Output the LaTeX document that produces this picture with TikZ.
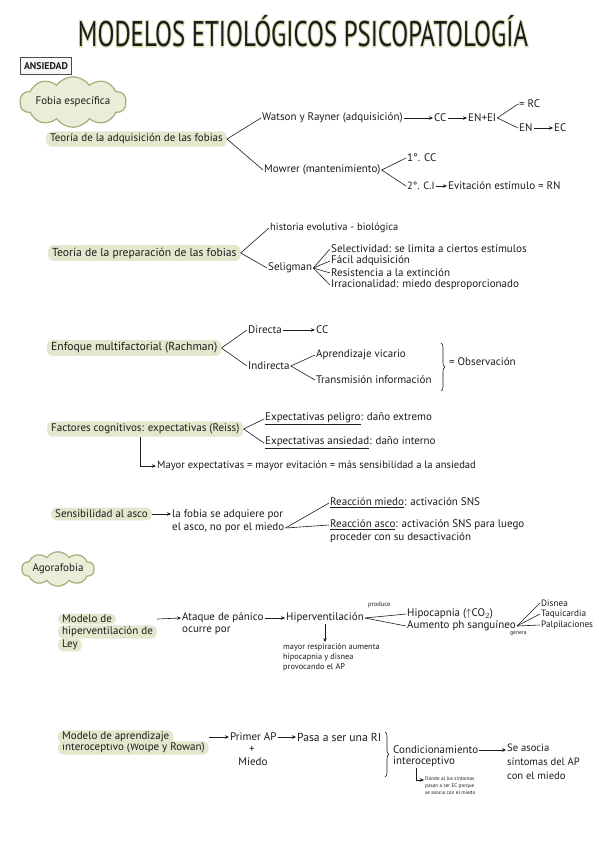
\documentclass[tikz,border=0pt]{standalone}
\usepackage{fontspec}
\setmainfont{PT Sans}
\newfontfamily\glowfont[FakeBold=7]{PT Sans}
\usetikzlibrary{shapes.symbols,arrows.meta,decorations.pathreplacing,calc}
\definecolor{ink}{RGB}{28,28,28}
\definecolor{hlfill}{RGB}{226,231,205}
\definecolor{cloudfill}{RGB}{232,238,216}
\definecolor{cloudline}{RGB}{160,176,120}
\definecolor{glow}{RGB}{218,228,184}
\begin{document}
\begin{tikzpicture}[x=1pt,y=-1pt,
  txt/.style={font=\fontsize{11}{13}\selectfont, text=ink, inner sep=1pt, anchor=west},
  big/.style={txt},
  sm/.style={txt, font=\fontsize{8.3}{10}\selectfont, align=left},
  tinytxt/.style={txt, font=\fontsize{5.2}{6.8}\selectfont, align=left},
  hl/.style={txt, fill=hlfill, rounded corners=5pt, inner xsep=4pt, inner ysep=2.5pt},
  ln/.style={draw=ink, line width=0.6pt},
  arr/.style={ln, -{Stealth[length=4pt,width=3.5pt]}},
  bracestyle/.style={ln, decorate, decoration={brace, amplitude=4pt}},
  cloudbox/.style={cloud, cloud puffs=10, cloud puff arc=110, aspect=3, draw=cloudline, fill=cloudfill, line width=1.2pt, inner sep=0pt, text=ink, font=\fontsize{11}{13}\selectfont},
  titlestyle/.style={inner sep=0pt, font=\fontsize{36}{36}\selectfont}
]
\useasboundingbox[fill=white] (0,0) rectangle (599,848);

% ---------- title ----------
\node[titlestyle, text=glow] (titleglow) at (303,31) {\resizebox{450pt}{31pt}{\glowfont MODELOS ETIOLÓGICOS PSICOPATOLOGÍA}};
\node[titlestyle, text=ink] (title) at (303,31) {\resizebox{450pt}{31pt}{MODELOS ETIOLÓGICOS PSICOPATOLOGÍA}};

\node[draw=gray!60!black, fill=gray!6, line width=0.8pt, minimum width=51pt, minimum height=17pt, inner sep=1pt, text=ink] (ans) at (46,66) {\resizebox{44pt}{7pt}{\bfseries ANSIEDAD}};

% ---------- Fobia especifica ----------
\node[cloudbox, minimum width=88pt, minimum height=30pt] (fobia) at (73,102) {Fobia específica};

\node[hl] (tadq) at (46,139) {Teoría de la adquisición de las fobias};
\node[txt] (watson) at (261,118) {Watson y Rayner (adquisición)};
\node[txt] (cc1) at (433,118) {CC};
\node[txt] (enei) at (467,118) {EN+EI};
\node[txt] (rc) at (518,104) {= RC};
\node[txt] (en) at (518,128) {EN};
\node[txt] (ec) at (553,128) {EC};
\node[txt] (mowrer) at (263,170) {Mowrer (mantenimiento)};
\node[txt] (cc2) at (406,158) {1°. CC};
\node[txt, font=\fontsize{10.5}{13}\selectfont] (ci) at (406,186) {2°. C.I};
\node[txt] (evit) at (447,186) {Evitación estímulo = RN};

\draw[ln] (tadq.east) -- (watson.west);
\draw[ln] (tadq.east) -- (mowrer.west);
\draw[arr] (watson.east) -- (cc1.west);
\draw[arr] (cc1.east) -- (enei.west);
\draw[ln] (enei.east) -- (rc.west);
\draw[ln] (enei.east) -- (en.west);
\draw[arr] (en.east) -- (ec.west);
\draw[ln] (mowrer.east) -- (cc2.west);
\draw[ln] (mowrer.east) -- (ci.west);
\draw[arr] (ci.east) -- (evit.west);

% ---------- Preparacion ----------
\node[hl, font=\fontsize{11.6}{13}\selectfont] (tprep) at (48,253) {Teoría de la preparación de las fobias};
\node[txt, font=\fontsize{10.5}{13}\selectfont] (hist) at (269,228) {historia evolutiva - biológica};
\node[txt] (selig) at (267,268) {Seligman};
\node[txt] (s1) at (330,249) {Selectividad: se limita a ciertos estímulos};
\node[txt] (s2) at (330,261) {Fácil adquisición};
\node[txt] (s3) at (330,273) {Resistencia a la extinción};
\node[txt] (s4) at (330,285) {Irracionalidad: miedo desproporcionado};
\draw[ln] (tprep.east) -- (hist.west);
\draw[ln] (tprep.east) -- (selig.west);
\foreach \s in {s1,s2,s3,s4} \draw[ln] (selig.east) -- (\s.west);

% ---------- Rachman ----------
\node[hl, font=\fontsize{11.6}{13}\selectfont] (rach) at (47,348) {Enfoque multifactorial (Rachman)};
\node[txt] (dir) at (247,330) {Directa};
\node[txt] (cc3) at (315,330) {CC};
\node[txt] (ind) at (247,366) {Indirecta};
\node[txt] (vic) at (315,355) {Aprendizaje vicario};
\node[txt] (trans) at (315,380) {Transmisión información};
\coordinate (obsT) at (441,343);
\coordinate (obsB) at (441,391);
\node[txt] (obs) at (448,362) {= Observación};
\draw[ln] (rach.east) -- (dir.west);
\draw[ln] (rach.east) -- (ind.west);
\draw[arr] (dir.east) -- (cc3.west);
\draw[ln] (ind.east) -- (vic.west);
\draw[ln] (ind.east) -- (trans.west);
\draw[bracestyle] (obsT) -- (obsB);

% ---------- Reiss ----------
\node[hl] (reiss) at (47,429) {Factores cognitivos: expectativas (Reiss)};
\node[txt] (pel) at (264,419) {\underline{Expectativas peligro}: daño extremo};
\node[txt] (ansi) at (264,443) {\underline{Expectativas ansiedad}: daño interno};
\node[txt, font=\fontsize{10.6}{12}\selectfont] (mayor) at (156,466) {Mayor expectativas = mayor evitación = más sensibilidad a la ansiedad};
\draw[ln] (reiss.east) -- (pel.west);
\draw[ln] (reiss.east) -- (ansi.west);
\draw[arr] ($(reiss.south west)+(93,0)$) |- (mayor.west);

% ---------- Asco ----------
\node[hl] (asco) at (51,514) {Sensibilidad al asco};
\node[txt] (fob1) at (171,515) {la fobia se adquiere por};
\node[txt] (fob2) at (171,528) {el asco, no por el miedo};
\node[txt] (rmie) at (329,503) {\underline{Reacción miedo}: activación SNS};
\node[txt] (rasc) at (329,525) {\underline{Reacción asco}: activación SNS para luego};
\node[txt] (rasc2) at (329,538) {proceder con su desactivación};
\draw[arr] (asco.east) -- (asco.east -| fob1.west);
\draw[ln] (fob2.east) -- (rmie.west);
\draw[ln] (fob2.east) -- (rasc.west);

% ---------- Agorafobia ----------
\node[cloudbox, minimum width=72pt, minimum height=28pt] (agora) at (58,569) {Agorafobia};

\node[hl, inner ysep=1.5pt] (mh3) at (58,645) {Ley};
\node[hl, inner ysep=1.5pt] (mh2) at (58,632) {hiperventilación de};
\node[hl, inner ysep=1.5pt] (mh1) at (58,619) {Modelo de};
\node[big] (at1) at (181,618) {Ataque de pánico};
\node[big] (at2) at (181,631) {ocurre por};
\node[big] (hiper) at (285,618) {Hiperventilación};
\node[sm] (mresp) at (282,657) {mayor respiración aumenta\\hipocapnia y disnea\\provocando el AP};
\node[tinytxt, font=\fontsize{6.5}{8}\selectfont] (prod) at (367,605) {produce};
\node[big] (hipo) at (406,614) {Hipocapnia ($\uparrow$CO$_2$)};
\node[big] (aum) at (406,626) {Aumento ph sanguíneo};
\node[txt, font=\fontsize{9.2}{10}\selectfont] (dis) at (540,603) {Disnea};
\node[txt, font=\fontsize{9.2}{10}\selectfont] (taq) at (540,614) {Taquicardia};
\node[txt, font=\fontsize{9.2}{10}\selectfont] (pal) at (540,625) {Palpilaciones};
\node[tinytxt, font=\fontsize{5.6}{7}\selectfont] (gen) at (509,634) {genera};
\draw[arr] (mh2.east |- mh1.east) -- (at1.west);
\draw[arr] (at1.east) -- (hiper.west);
\draw[arr] (hiper.south) -- (hiper.south |- mresp.north);
\draw[ln] (hiper.east) -- (hipo.west);
\draw[ln] (hiper.east) -- (aum.west);
\foreach \s in {dis,taq,pal} \draw[ln] (aum.east) -- (\s.west);

% ---------- Wolpe y Rowan ----------
\node[hl, inner ysep=1.5pt] (wr2) at (58,748) {interoceptivo (Wolpe y Rowan)};
\node[hl, inner ysep=1.5pt] (wr1) at (58,737) {Modelo de aprendizaje};
\node[big] (prim) at (229,737) {Primer AP};
\node[big, anchor=center] (plus) at (252,749) {+};
\node[big, anchor=center] (mied) at (253,762) {Miedo};
\node[big, font=\fontsize{11.6}{13}\selectfont] (pasa) at (296,737) {Pasa a ser una RI};
\coordinate (riT) at (385,732);
\coordinate (riB) at (385,777);
\node[big] (cond) at (392,750) {Condicionamiento};
\node[big] (intero) at (392,762) {interoceptivo};
\node[big, align=left, font=\fontsize{10.6}{14}\selectfont, anchor=north west] (seas) at (506,743) {Se asocia\\síntomas del AP\\con el miedo};
\node[tinytxt, anchor=north west] (donde) at (424,776) {Dónde al los síntomas\\pasan a ser EC porque\\se asocia con el miedo};
\draw[arr] (wr2.east |- wr1.east) -- (prim.west);
\draw[arr] (prim.east) -- (pasa.west);
\draw[bracestyle] (riT) -- (riB);
\draw[arr] (cond.east) -- (cond.east -| seas.west);
\draw[arr] ($(intero.south west)+(24,0)$) |- ($(donde.north west)+(0,4)$);
\end{tikzpicture}
\end{document}
